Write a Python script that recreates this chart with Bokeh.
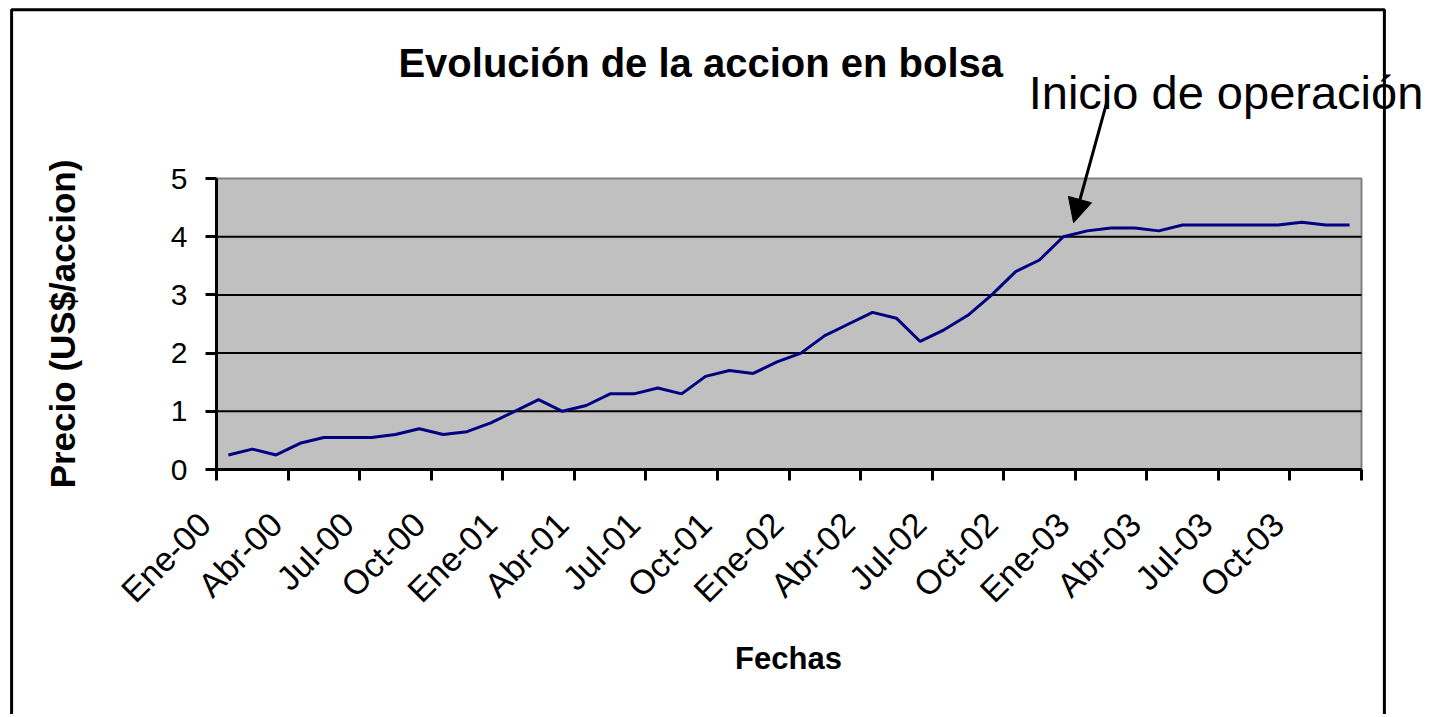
import math
from bokeh.plotting import figure
from bokeh.models import (Range1d, FixedTicker, Label, Arrow, NormalHead,
                          BoxAnnotation, ColumnDataSource, LinearAxis)
from bokeh.embed import file_html
from bokeh.resources import INLINE

# ---- data ----
months = ["Ene", "Feb", "Mar", "Abr", "May", "Jun", "Jul", "Ago", "Sep", "Oct", "Nov", "Dic"]
years = ["00", "01", "02", "03"]
fechas = [f"{m}-{y}" for y in years for m in months]
precio = [0.25, 0.35, 0.25, 0.45, 0.55, 0.55, 0.55, 0.60, 0.70, 0.60, 0.65, 0.80,
          1.00, 1.20, 1.00, 1.10, 1.30, 1.30, 1.40, 1.30, 1.60, 1.70, 1.65, 1.85,
          2.00, 2.30, 2.50, 2.70, 2.60, 2.20, 2.40, 2.65, 3.00, 3.40, 3.60, 4.00,
          4.10, 4.15, 4.15, 4.10, 4.20, 4.20, 4.20, 4.20, 4.20, 4.25, 4.20, 4.20]
y_ticks = [0, 1, 2, 3, 4, 5]
grid_values = [1, 2, 3, 4]
label_every = 3

title_text = "Evolución de la accion en bolsa"
note_text = "Inicio de operación"
x_title = "Fechas"
y_title = "Precio (US$/accion)"

FONT = "Liberation Sans"

# ---- geometry (pixels) ----
W, H = 1436, 714
plot_left, plot_right = 216, 1361     # plot area inside canvas
plot_top, plot_bottom = 178, 469

n = len(precio)
x0, x1 = -0.5, n - 0.5
y0, y1 = 0, 5
ppx = (plot_right - plot_left) / (x1 - x0)
ppy = (plot_bottom - plot_top) / (y1 - y0)
xr = Range1d(x0 - plot_left / ppx, x1 + (W - plot_right) / ppx)
yr = Range1d(y0 - (H - plot_bottom) / ppy, y1 + plot_top / ppy)

src = ColumnDataSource(dict(x=list(range(n)), y=precio, fecha=fechas))

p = figure(width=W, height=H, output_backend="svg", toolbar_location=None,
           x_range=xr, y_range=yr,
           min_border_left=0, min_border_right=0,
           min_border_top=0, min_border_bottom=0)
p.title.visible = False
p.background_fill_color = "white"
p.border_fill_color = "white"
p.outline_line_color = None
p.xgrid.visible = False
p.ygrid.visible = False

# plot area
p.add_layout(BoxAnnotation(left=x0, right=x1, bottom=y0, top=y1,
                           fill_color="#C0C0C0", fill_alpha=1,
                           line_color="#808080", line_alpha=1, line_width=2,
                           level="underlay"))
# horizontal grid lines
p.segment(x0=[x0] * len(grid_values), x1=[x1] * len(grid_values),
          y0=grid_values, y1=grid_values, line_color="black", line_width=2)

# x axis: line + ticks at category boundaries
tick_pos = [i - 0.5 for i in range(0, n + 1, label_every)]
xa = p.xaxis[0]
xa.fixed_location = y0
xa.bounds = (x0, x1)
xa.ticker = FixedTicker(ticks=tick_pos)
xa.major_label_overrides = {t: "" for t in tick_pos}
xa.minor_tick_line_color = None
xa.major_tick_in = 0
xa.major_tick_out = 11
xa.major_tick_line_width = 3
xa.axis_line_width = 3

# x axis labels (category names, every 3 months)
lab_pos = [i - 1.0 for i in range(0, n, label_every)]
lab_over = {t: fechas[int(t + 1.0)] for t in lab_pos}
xl = LinearAxis(fixed_location=y0, ticker=FixedTicker(ticks=lab_pos),
                bounds=(-1.0, 47.97),
                major_label_overrides=lab_over,
                major_label_orientation=math.pi / 4,
                major_label_text_font=FONT, major_label_text_font_size="34px",
                major_label_text_color="black", major_label_standoff=38,
                axis_line_color=None, major_tick_line_color=None,
                minor_tick_line_color=None, major_tick_in=0, major_tick_out=11,
                axis_label=x_title, axis_label_text_font=FONT,
                axis_label_text_font_style="bold", axis_label_text_font_size="31px",
                axis_label_text_color="black", axis_label_standoff=15)
p.add_layout(xl, "below")

# y axis
ya = p.yaxis[0]
ya.fixed_location = x0
ya.bounds = (y0, y1)
ya.ticker = FixedTicker(ticks=y_ticks)
ya.major_label_text_font = FONT
ya.major_label_text_font_size = "30px"
ya.major_label_text_color = "black"
ya.major_label_standoff = 18
ya.minor_tick_line_color = None
ya.major_tick_in = 0
ya.major_tick_out = 11
ya.major_tick_line_width = 3
ya.axis_line_width = 3
ya.axis_label = y_title
ya.axis_label_text_font = FONT
ya.axis_label_text_font_style = "bold"
ya.axis_label_text_font_size = "35px"
ya.axis_label_text_color = "black"
ya.axis_label_standoff = 86

# series
p.line("x", "y", source=src, line_color="#000080", line_width=3)

# title
p.add_layout(Label(x=19.8, y=6.99, text=title_text, text_font=FONT,
                   text_font_style="bold", text_font_size="40px",
                   text_align="center", text_baseline="alphabetic",
                   text_color="black"))

# annotation
p.add_layout(Label(x=33.55, y=6.48, text=note_text, text_font=FONT,
                   text_font_size="47px", text_align="left",
                   text_baseline="alphabetic", text_color="black"))
p.add_layout(Arrow(end=NormalHead(size=24, fill_color="black", line_color="black"),
                   x_start=36.85, y_start=6.35, x_end=35.43, y_end=4.24,
                   line_width=3, line_color="black"))

# chart border
p.add_layout(BoxAnnotation(left=-9.09, right=48.46, top=7.9, bottom=-6,
                           fill_alpha=0, line_color="black", line_alpha=1,
                           line_width=3))

open("out.html", "w").write(file_html(p, INLINE))
